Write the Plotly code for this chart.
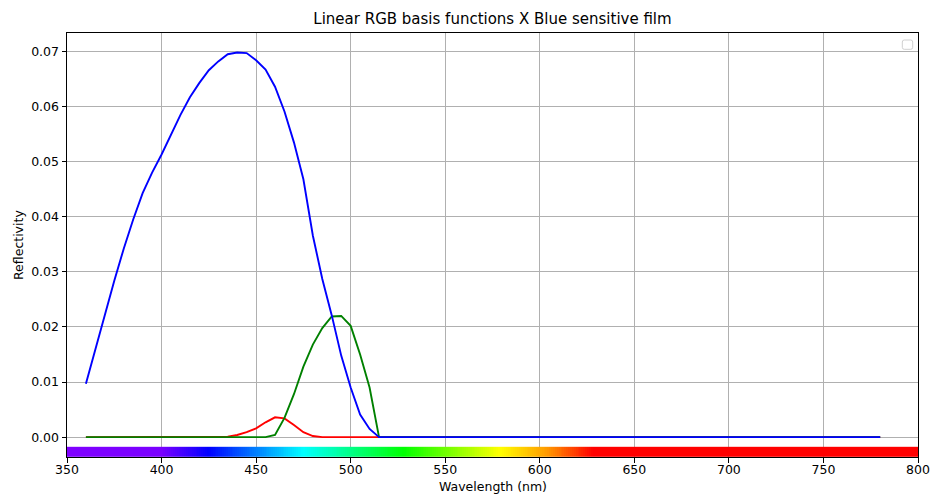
import numpy as np
import plotly.graph_objects as go

# Wavelength samples (nm), 5 nm steps
wavelengths = list(range(360, 785, 5))

# Basis function reflectivities, listed from 360 nm; values beyond the list are zero
blue_vals = [0.0097, 0.0160, 0.0222, 0.0284, 0.0342, 0.0395, 0.0443, 0.0480,
             0.0513, 0.0549, 0.0585, 0.0617, 0.0643, 0.0666, 0.0682, 0.0695,
             0.0698, 0.0697, 0.0684, 0.0667, 0.0636, 0.0591, 0.0535, 0.0468,
             0.0366, 0.0287, 0.0221, 0.0148, 0.0090, 0.0041, 0.0015, 0.0]
green_vals = [0.0] * 20 + [0.0004, 0.0035, 0.0078, 0.0128, 0.0168, 0.0198,
                           0.0219, 0.0220, 0.0202, 0.0150, 0.0090, 0.0]
red_vals = [0.0] * 15 + [0.0001, 0.0004, 0.0009, 0.0016, 0.0027, 0.0036,
                         0.0034, 0.0022, 0.0009, 0.0002, 0.0]

n = len(wavelengths)
blue = blue_vals + [0.0] * (n - len(blue_vals))
green = green_vals + [0.0] * (n - len(green_vals))
red = red_vals + [0.0] * (n - len(red_vals))

# Visible spectrum colour stops for the strip under the curves
spec_nm = [350, 400, 425, 475, 528, 579, 604, 628, 800]
spec_col = ["#7f00ff", "#7a00ff", "#0000ff", "#00ffff", "#00ff00",
            "#ffff00", "#ff9900", "#ff0000", "#ff0000"]

x_ticks = list(range(350, 801, 50))
y_ticks = [0.0, 0.01, 0.02, 0.03, 0.04, 0.05, 0.06, 0.07]

X_MIN, X_MAX = 350, 800
Y_MIN, Y_MAX = -0.0036, 0.07335
STRIP_TOP = -0.00175

FONT = "DejaVu Sans"
W, H = 931, 497

fig = go.Figure()

# Spectrum strip as a one-row heatmap
edges = np.linspace(X_MIN, X_MAX, 451)
centers = (edges[:-1] + edges[1:]) / 2
colorscale = [[(w - X_MIN) / (X_MAX - X_MIN), c] for w, c in zip(spec_nm, spec_col)]
fig.add_trace(go.Heatmap(
    x=edges, y=[Y_MIN, STRIP_TOP], z=[centers],
    colorscale=colorscale, zmin=X_MIN, zmax=X_MAX,
    showscale=False, hoverinfo="skip",
))

for vals, col in [(red, "#ff0000"), (green, "#008000"), (blue, "#0000ff")]:
    fig.add_trace(go.Scatter(
        x=wavelengths, y=vals, mode="lines",
        line=dict(color=col, width=1.9), showlegend=False,
    ))

# Empty legend frame, top-right corner
x0, x1 = (902.3 - 67) / 851, (912.7 - 67) / 851
y1, y0 = 1 - 7 / 424, 1 - 16.3 / 424
rx, ry = 2 / 851, 2 / 424
legend_path = (
    f"M {x0+rx},{y1} L {x1-rx},{y1} Q {x1},{y1} {x1},{y1-ry} "
    f"L {x1},{y0+ry} Q {x1},{y0} {x1-rx},{y0} "
    f"L {x0+rx},{y0} Q {x0},{y0} {x0},{y0+ry} "
    f"L {x0},{y1-ry} Q {x0},{y1} {x0+rx},{y1} Z"
)
fig.add_shape(type="path", path=legend_path, xref="paper", yref="paper",
              line=dict(color="#d0d0d0", width=1), fillcolor="rgba(255,255,255,0.8)")

axis_common = dict(
    showgrid=True, gridcolor="#b0b0b0", gridwidth=1, automargin=False,
    zeroline=False, showline=True, linecolor="black", linewidth=1, mirror=True,
    ticks="outside", ticklen=4.5, tickwidth=1, tickcolor="black",
    tickfont=dict(family=FONT, size=12.5, color="black"),
)

fig.update_xaxes(range=[X_MIN, X_MAX], tickvals=x_ticks,
                 ticktext=[str(t) for t in x_ticks], ticklabelstandoff=-4,
                 **axis_common)
fig.update_yaxes(range=[Y_MIN, Y_MAX], tickvals=y_ticks,
                 ticktext=[f"{t:.2f}" for t in y_ticks], **axis_common)

fig.add_annotation(text="Wavelength (nm)", xref="paper", yref="paper",
                   x=0.5, y=(457 - 487) / 424, showarrow=False,
                   xanchor="center", yanchor="middle",
                   font=dict(family=FONT, size=12.5, color="black"))
fig.add_annotation(text="Reflectivity", xref="paper", yref="paper",
                   x=(18 - 67) / 851, y=0.5, textangle=-90, showarrow=False,
                   xanchor="center", yanchor="middle",
                   font=dict(family=FONT, size=12.5, color="black"))

fig.update_layout(
    width=W, height=H,
    margin=dict(l=67, r=13, t=33, b=40, autoexpand=False),
    paper_bgcolor="white", plot_bgcolor="white",
    title=dict(text="Linear RGB basis functions X Blue sensitive film",
               x=0.5 * (67 + 918) / W, xanchor="center",
               yref="container", y=1 - 19 / H, yanchor="middle",
               font=dict(family=FONT, size=15, color="black")),
    showlegend=False,
)

fig.write_html("out.html")
